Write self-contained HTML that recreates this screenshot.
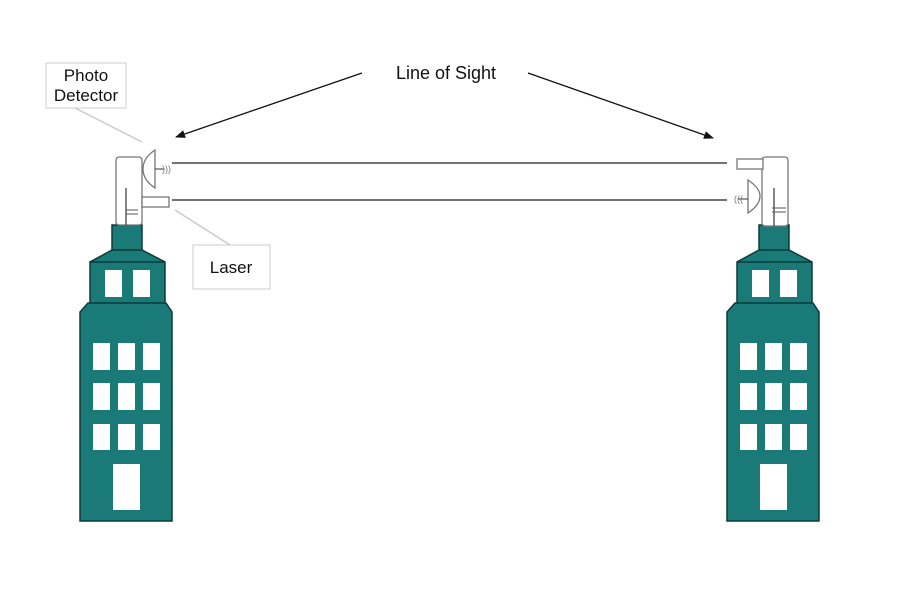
<!DOCTYPE html>
<html><head><style>body{margin:0;background:#fff}svg{display:block}</style></head><body>
<svg width="900" height="600" viewBox="0 0 900 600" xmlns="http://www.w3.org/2000/svg" font-family="Liberation Sans, sans-serif">
<defs>
<marker id="ah" markerWidth="10" markerHeight="8" refX="9" refY="4" orient="auto" markerUnits="userSpaceOnUse"><path d="M0,0 L10,4 L0,8 z" fill="#111"/></marker>
<g id="bld">
<rect x="112" y="225" width="30" height="30" fill="#1a7a78" stroke="#0b3b3a" stroke-width="1.5"/>
<path d="M112,250 L142,250 L165,262 L165,305 L90,305 L90,262 Z" fill="#1a7a78" stroke="#0b3b3a" stroke-width="1.5"/>
<line x1="90" y1="262" x2="165" y2="262" stroke="#0b3b3a" stroke-width="1.5"/>
<rect x="105" y="270" width="17" height="27" fill="#fff"/>
<rect x="133" y="270" width="17" height="27" fill="#fff"/>
<path d="M88,303 L166,303 L172,312 L172,521 L80,521 L80,312 Z" fill="#1a7a78" stroke="#0b3b3a" stroke-width="1.5"/>
<g fill="#fff">
<rect x="93" y="343" width="17" height="27"/><rect x="118" y="343" width="17" height="27"/><rect x="143" y="343" width="17" height="27"/>
<rect x="93" y="383" width="17" height="27"/><rect x="118" y="383" width="17" height="27"/><rect x="143" y="383" width="17" height="27"/>
<rect x="93" y="424" width="17" height="26"/><rect x="118" y="424" width="17" height="26"/><rect x="143" y="424" width="17" height="26"/>
<rect x="113" y="464" width="27" height="46"/>
</g>
</g>
</defs>
<use href="#bld"/>
<use href="#bld" transform="translate(647,0)"/>
<g fill="#fff" stroke="#777" stroke-width="1.3">
<rect x="116" y="157" width="26" height="68" rx="3"/>
<path d="M155,150 L155,188 Q143,180 143,169 Q143,158 155,150 Z"/>
<rect x="142" y="197" width="27" height="10"/>
</g>
<line x1="126" y1="188" x2="126" y2="225" stroke="#333" stroke-width="1.2"/>
<line x1="126" y1="210" x2="138" y2="210" stroke="#555"/><line x1="126" y1="214" x2="138" y2="214" stroke="#555"/>
<line x1="155" y1="169" x2="164" y2="169" stroke="#333"/><text x="162" y="172" font-size="9" fill="#777">)))</text>
<g fill="#fff" stroke="#777" stroke-width="1.3">
<rect x="762" y="157" width="26" height="69" rx="3"/>
<path d="M748,180 L748,213 Q760,205 760,196 Q760,188 748,180 Z"/>
<rect x="737" y="159" width="26" height="10"/>
</g>
<line x1="774" y1="188" x2="774" y2="226" stroke="#333" stroke-width="1.2"/>
<line x1="772" y1="208" x2="786" y2="208" stroke="#555"/><line x1="772" y1="212" x2="786" y2="212" stroke="#555"/>
<line x1="738" y1="199" x2="748" y2="199" stroke="#333"/><text x="734" y="202" font-size="9" fill="#777">(((</text>
<line x1="172" y1="163" x2="727" y2="163" stroke="#222" stroke-width="1.3"/>
<line x1="172" y1="200" x2="727" y2="200" stroke="#222" stroke-width="1.3"/>
<line x1="75" y1="108" x2="142" y2="142" stroke="#ccc" stroke-width="1.5"/>
<rect x="46" y="63" width="80" height="45" fill="#fff" stroke="#ccc"/>
<text x="86" y="81" font-size="17" text-anchor="middle" fill="#111">Photo</text>
<text x="86" y="101" font-size="17" text-anchor="middle" fill="#111">Detector</text>
<line x1="175" y1="210" x2="230" y2="245" stroke="#ccc" stroke-width="1.5"/>
<rect x="193" y="245" width="77" height="44" fill="#fff" stroke="#ccc"/>
<text x="231" y="273" font-size="17" text-anchor="middle" fill="#111">Laser</text>
<text x="446" y="79" font-size="18" text-anchor="middle" fill="#111">Line of Sight</text>
<line x1="362" y1="73" x2="176" y2="137" stroke="#111" stroke-width="1.3" marker-end="url(#ah)"/>
<line x1="528" y1="73" x2="713" y2="138" stroke="#111" stroke-width="1.3" marker-end="url(#ah)"/>
</svg>
</body></html>
